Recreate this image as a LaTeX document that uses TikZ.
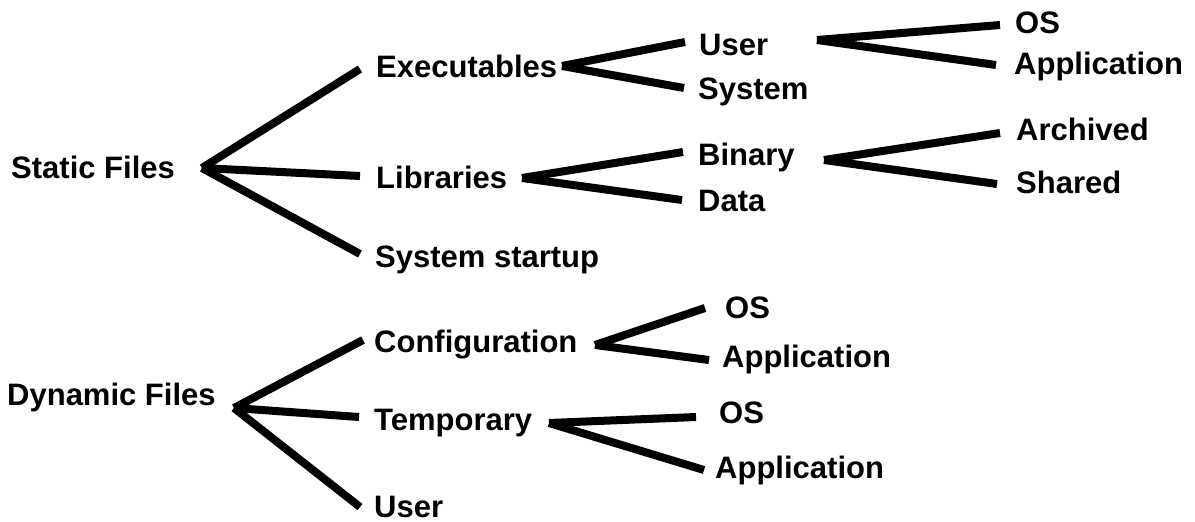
\documentclass[tikz,border=0pt]{standalone}
\usepackage{fontspec}
\setmainfont{Liberation Sans}
\begin{document}
\begin{tikzpicture}[x=1pt,y=-1pt,
  lbl/.style={anchor=base west,inner sep=0pt,font=\fontsize{31}{36}\selectfont\bfseries},
  branch/.style={line width=8pt,line cap=butt,black}]
\useasboundingbox (0,0) rectangle (1195,522);
% labels
\node[lbl] (sf) at (11,178) {Static Files};
\node[lbl] (exe) at (376,77) {Executables};
\node[lbl] (usr) at (699,55) {User};
\node[lbl] (sys) at (698,99) {System};
\node[lbl] (os1) at (1015,33) {OS};
\node[lbl] (app1) at (1014,74) {Application};
\node[lbl] (lib) at (376,188) {Libraries};
\node[lbl] (bin) at (698,165) {Binary};
\node[lbl] (dat) at (698,211) {Data};
\node[lbl] (arc) at (1016,140) {Archived};
\node[lbl] (shr) at (1016,193) {Shared};
\node[lbl] (sst) at (375,267) {System startup};
\node[lbl] (df) at (7,405) {Dynamic Files};
\node[lbl] (cfg) at (374,352) {Configuration};
\node[lbl] (tmp) at (374,430) {Temporary};
\node[lbl] (usr2) at (374,517) {User};
\node[lbl] (os2) at (725,318) {OS};
\node[lbl] (app2) at (722,367) {Application};
\node[lbl] (os3) at (719,423) {OS};
\node[lbl] (app3) at (715,478) {Application};
% connector ends
\coordinate (sfh) at (202,168);
\coordinate (exeA) at (360,69);
\coordinate (libA) at (360,176);
\coordinate (sstA) at (360,254);
\coordinate (exeh) at (562,66);
\coordinate (usrA) at (685,42);
\coordinate (sysA) at (684,88);
\coordinate (usrh) at (817,40);
\coordinate (os1A) at (1000,25);
\coordinate (app1A) at (996,65);
\coordinate (libh) at (522,178);
\coordinate (binA) at (683,152);
\coordinate (datA) at (682,200);
\coordinate (binh) at (824,160);
\coordinate (arcA) at (1000,133);
\coordinate (shrA) at (997,184);
\coordinate (dfh) at (234,408);
\coordinate (cfgA) at (363,340);
\coordinate (tmpA) at (359,417);
\coordinate (usr2A) at (360,507);
\coordinate (cfgh) at (595,345);
\coordinate (os2A) at (705,308);
\coordinate (app2A) at (709,360);
\coordinate (tmph) at (549,423);
\coordinate (os3A) at (696,417);
\coordinate (app3A) at (704,470);
% connectors
\draw[branch] (sfh) -- (exeA);
\draw[branch] (sfh) -- (libA);
\draw[branch] (sfh) -- (sstA);
\draw[branch] (exeh) -- (usrA);
\draw[branch] (exeh) -- (sysA);
\draw[branch] (usrh) -- (os1A);
\draw[branch] (usrh) -- (app1A);
\draw[branch] (libh) -- (binA);
\draw[branch] (libh) -- (datA);
\draw[branch] (binh) -- (arcA);
\draw[branch] (binh) -- (shrA);
\draw[branch] (dfh) -- (cfgA);
\draw[branch] (dfh) -- (tmpA);
\draw[branch] (dfh) -- (usr2A);
\draw[branch] (cfgh) -- (os2A);
\draw[branch] (cfgh) -- (app2A);
\draw[branch] (tmph) -- (os3A);
\draw[branch] (tmph) -- (app3A);
\end{tikzpicture}
\end{document}
